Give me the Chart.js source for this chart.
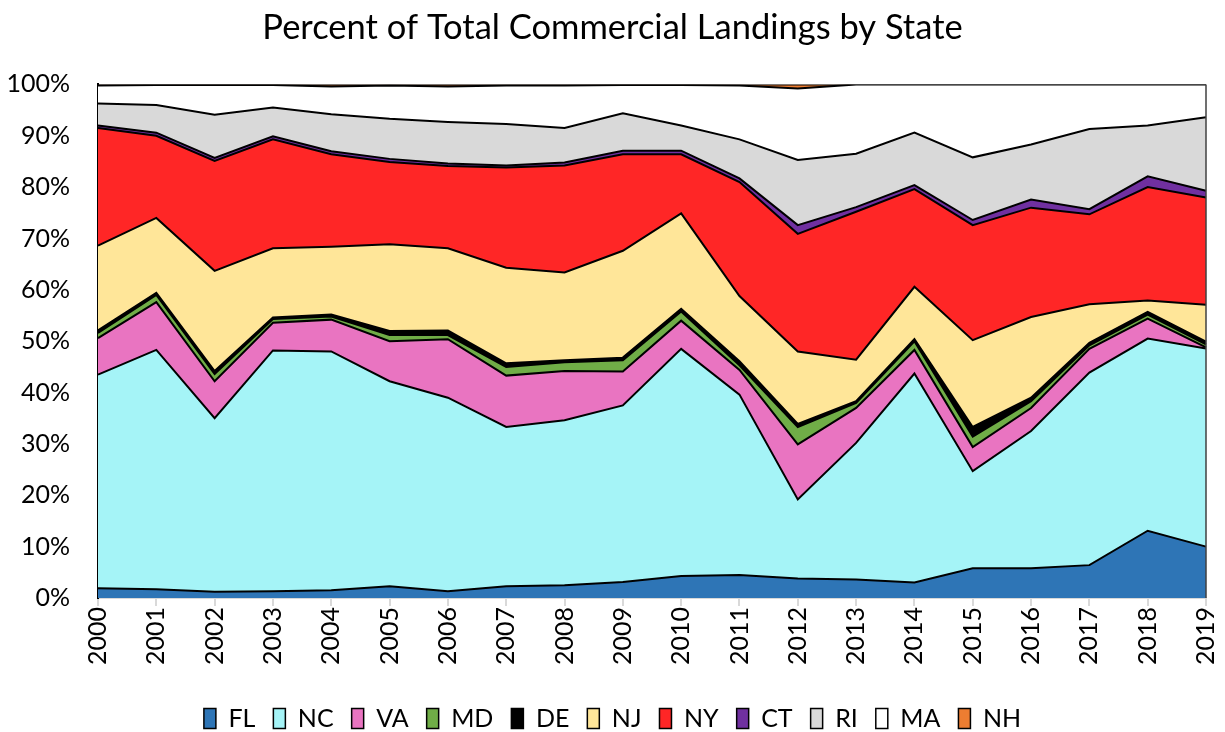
<!DOCTYPE html>
<html>
<head>
<meta charset="utf-8">
<script src="https://cdn.jsdelivr.net/npm/chart.js@4/dist/chart.umd.min.js"></script>
<style>
html,body{margin:0;padding:0;background:#fff;}
#wrap{width:1225px;height:732px;position:relative;}
</style>
</head>
<body>
<div id="wrap"><canvas id="c" width="1225" height="732"></canvas></div>
<script>
const years = ["2000","2001","2002","2003","2004","2005","2006","2007","2008","2009","2010","2011","2012","2013","2014","2015","2016","2017","2018","2019"];
const FL = [1.9,1.7,1.2,1.3,1.5,2.3,1.3,2.3,2.5,3.1,4.3,4.5,3.8,3.6,3.0,5.8,5.8,6.4,13.1,10.0];
const NC = [41.6,46.6,33.8,46.9,46.5,39.9,37.7,31.0,32.1,34.4,44.2,35.1,15.4,26.6,40.7,18.9,26.7,37.5,37.4,38.6];
const VA = [7.1,9.3,7.2,5.4,6.2,7.8,11.4,10.0,9.6,6.6,5.5,4.8,10.7,6.8,4.6,4.7,4.5,4.6,3.9,0.2];
const MD = [1.0,1.4,1.4,0.7,0.6,1.2,0.8,1.7,1.7,2.2,1.8,0.9,3.4,1.0,1.7,2.0,1.3,0.7,0.8,0.6];
const DE = [0.5,0.4,0.6,0.3,0.4,0.8,0.9,0.7,0.4,0.5,0.5,0.8,0.6,0.3,0.4,1.9,0.7,0.5,0.5,0.5];
const NJ = [16.5,14.6,19.5,13.5,13.2,16.9,16.0,18.6,17.1,20.8,18.6,12.7,14.1,8.1,10.2,16.9,15.7,7.5,2.2,7.2];
const NY = [22.9,16.0,21.4,21.2,18.0,16.0,16.0,19.5,20.8,18.8,11.5,22.2,22.9,28.8,19.0,22.4,21.3,17.5,22.1,20.9];
const CT = [0.5,0.6,0.6,0.6,0.6,0.6,0.5,0.4,0.6,0.7,0.7,0.7,1.7,0.9,0.8,1.0,1.6,1.0,2.1,1.3];
const RI = [4.3,5.4,8.4,5.6,7.2,7.8,8.1,8.1,6.7,7.3,4.9,7.6,12.7,10.4,10.2,12.2,10.7,15.6,9.9,14.3];
const MA = [3.5,3.9,5.8,4.4,5.4,6.5,6.9,7.5,8.3,5.5,7.9,10.5,13.9,13.5,9.4,14.2,11.7,8.7,8.0,6.4];
const NH = [0.2,0.1,0.1,0.1,0.4,0.2,0.4,0.2,0.2,0.1,0.1,0.2,0.8,0,0,0,0,0,0,0];
const yTicks = [0,10,20,30,40,50,60,70,80,90,100];

const series = [
  ["FL", FL, "#2E75B6"],
  ["NC", NC, "#A5F4F7"],
  ["VA", VA, "#E974C1"],
  ["MD", MD, "#70AD47"],
  ["DE", DE, "#000000"],
  ["NJ", NJ, "#FFE699"],
  ["NY", NY, "#FF2626"],
  ["CT", CT, "#7030A0"],
  ["RI", RI, "#D9D9D9"],
  ["MA", MA, "#FFFFFF"],
  ["NH", NH, "#ED7D31"]
];

const FONT = "Lato, 'Liberation Sans', sans-serif";

const edgePlugin = {
  id: 'edge',
  afterDatasetsDraw(chart) {
    const a = chart.chartArea, ctx = chart.ctx;
    ctx.save();
    ctx.strokeStyle = '#404040';
    ctx.lineWidth = 1.5;
    ctx.beginPath();
    ctx.moveTo(a.right, a.top);
    ctx.lineTo(a.right, a.bottom);
    ctx.stroke();
    ctx.restore();
  }
};

new Chart(document.getElementById('c'), {
  type: 'line',
  data: {
    labels: years,
    datasets: series.map((s, i) => ({
      label: s[0],
      data: s[1],
      backgroundColor: s[2],
      borderColor: '#000000',
      borderWidth: 2,
      pointRadius: 0,
      pointHoverRadius: 0,
      tension: 0,
      fill: i === 0 ? 'origin' : '-1'
    }))
  },
  options: {
    responsive: false,
    animation: false,
    layout: { padding: { left: 0, right: 0, top: 0, bottom: -9 } },
    plugins: {
      title: {
        display: true,
        text: 'Percent of Total Commercial Landings by State',
        color: '#000',
        font: { family: FONT, size: 34.5, weight: 'normal' },
        padding: { top: 7, bottom: 36 }
      },
      legend: {
        position: 'bottom',
        labels: {
          color: '#000',
          font: { family: FONT, size: 25 },
          boxWidth: 12,
          boxHeight: 20,
          padding: 18,
          generateLabels(chart) {
            return chart.data.datasets.map((d, i) => ({
              text: d.label,
              fillStyle: d.backgroundColor,
              strokeStyle: '#000',
              lineWidth: 1.5,
              datasetIndex: i,
              fontColor: '#000'
            }));
          }
        }
      },
      tooltip: { enabled: false }
    },
    scales: {
      x: {
        type: 'category',
        offset: false,
        afterFit(axis) { axis.height = 90; axis.paddingRight = 19; axis.paddingLeft = 0; },
        grid: { display: true, drawOnChartArea: false, drawTicks: true, tickLength: 8, color: '#D9D9D9', lineWidth: 2 },
        border: { color: '#D9D9D9', width: 2 },
        ticks: { color: '#000', font: { family: FONT, size: 25 }, maxRotation: 90, minRotation: 90, autoSkip: false, padding: 1 }
      },
      y: {
        stacked: true,
        min: 0,
        max: 100,
        afterFit(axis) { axis.width = 98; },
        afterBuildTicks(axis) { axis.ticks = yTicks.map(v => ({ value: v })); },
        grid: { display: false },
        border: { color: '#000', width: 2 },
        ticks: { color: '#000', font: { family: FONT, size: 25 }, padding: 20, callback: v => v + '%' }
      }
    }
  },
  plugins: [edgePlugin]
});
</script>
</body>
</html>
